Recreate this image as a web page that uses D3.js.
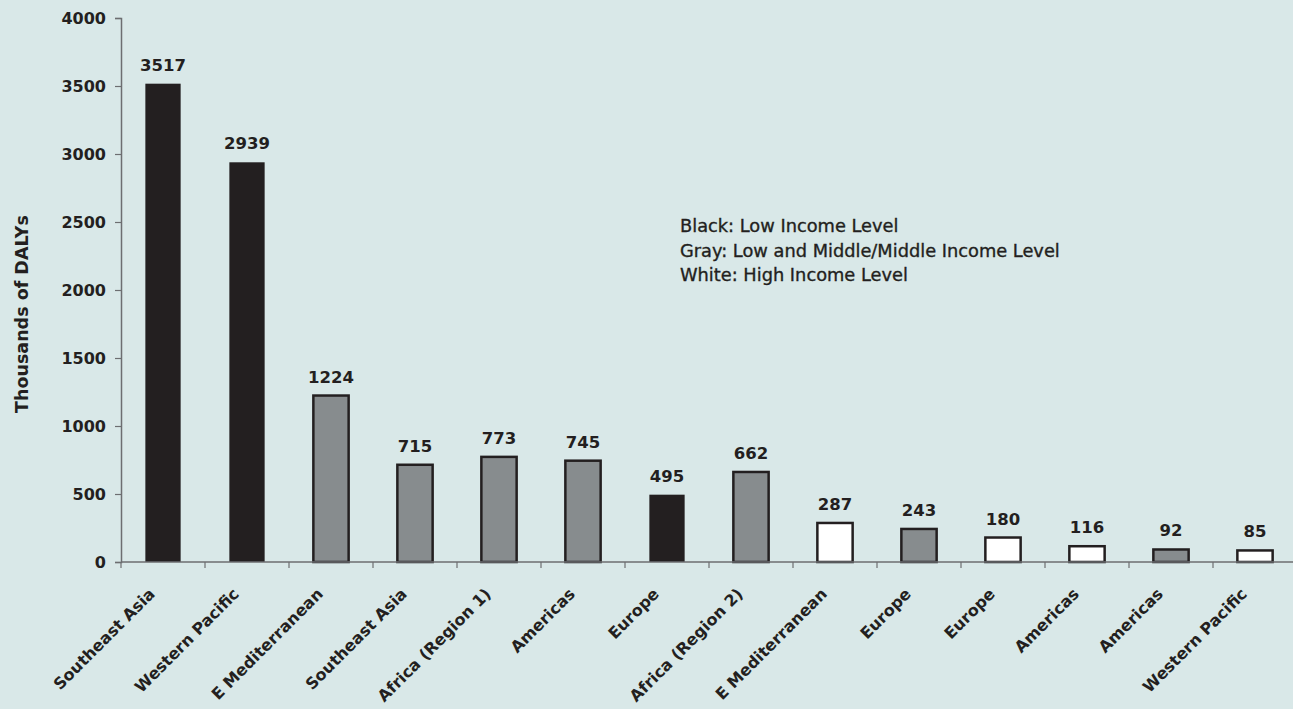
<!DOCTYPE html>
<html>
<head>
<meta charset="utf-8">
<script src="https://cdn.jsdelivr.net/npm/d3@7"></script>
<style>
  body { margin: 0; background: #d9e8e8; }
  svg { display: block; font-family: "DejaVu Sans", sans-serif; }
</style>
</head>
<body>
<div id="chart"></div>
<script>
// data
const regions = ["Southeast Asia", "Western Pacific", "E Mediterranean", "Southeast Asia",
  "Africa (Region 1)", "Americas", "Europe", "Africa (Region 2)", "E Mediterranean",
  "Europe", "Europe", "Americas", "Americas", "Western Pacific"];
const dalys = [3517, 2939, 1224, 715, 773, 745, 495, 662, 287, 243, 180, 116, 92, 85];
const incomeLevel = ["low", "low", "mid", "mid", "mid", "mid", "low", "mid", "high",
  "mid", "high", "high", "mid", "high"];
const yTicks = [0, 500, 1000, 1500, 2000, 2500, 3000, 3500, 4000];
const legendLines = ["Black: Low Income Level",
  "Gray: Low and Middle/Middle Income Level",
  "White: High Income Level"];

const W = 1293, H = 709;
const colors = { low: "#231f20", mid: "#878c8e", high: "#ffffff" };
const ink = "#231f20";

var svg = d3.select("#chart").append("svg")
  .attr("width", W).attr("height", H);

svg.append("rect").attr("width", W).attr("height", H).attr("fill", "#d9e8e8");

// scales
var x = d3.scaleBand().domain(d3.range(regions.length)).range([121, 1297]).paddingInner(0.58).paddingOuter(0.29);
var y = d3.scaleLinear().domain([0, 4000]).range([562, 18]);

// bars
svg.append("g").selectAll("rect")
  .data(dalys)
  .enter()
  .append("rect")
  .attr("x", (d, i) => x(i))
  .attr("y", d => y(d))
  .attr("width", x.bandwidth())
  .attr("height", d => y(0) - y(d))
  .attr("fill", (d, i) => colors[incomeLevel[i]])
  .attr("stroke", ink)
  .attr("stroke-width", (d, i) => incomeLevel[i] == "low" ? 0 : 2.5);

// value labels
svg.append("g").selectAll("text")
  .data(dalys)
  .enter()
  .append("text")
  .attr("x", (d, i) => x(i) + x.bandwidth() / 2)
  .attr("y", d => y(d) - 13)
  .attr("text-anchor", "middle")
  .style("font-size", "16.5px")
  .style("font-weight", "bold")
  .style("fill", ink)
  .text(d => d);

// y axis
var yAxis = svg.append("g")
  .attr("transform", "translate(121,0)")
  .call(d3.axisLeft(y).tickValues(yTicks).tickSize(6).tickPadding(9).tickFormat(d3.format("d")));
yAxis.select(".domain").attr("stroke", "#6d6e71").attr("stroke-width", 1.5);
yAxis.selectAll(".tick line").attr("stroke", "#6d6e71").attr("stroke-width", 1.2);
yAxis.selectAll(".tick text")
  .style("font-size", "16px").style("font-weight", "bold")
  .style("fill", ink).style("font-family", "DejaVu Sans, sans-serif");

// x axis: tick marks at the band edges
var xb = svg.append("g");
xb.append("line")
  .attr("x1", 121).attr("x2", W)
  .attr("y1", y(0)).attr("y2", y(0))
  .attr("stroke", "#6d6e71").attr("stroke-width", 1.5);
xb.selectAll("line.tk")
  .data(d3.range(regions.length))
  .enter()
  .append("line")
  .attr("class", "tk")
  .attr("x1", i => x(i) - x.step() * 0.29)
  .attr("x2", i => x(i) - x.step() * 0.29)
  .attr("y1", y(0)).attr("y2", y(0) + 6)
  .attr("stroke", "#6d6e71").attr("stroke-width", 1.2);

// category labels
xb.selectAll("text")
  .data(regions)
  .enter()
  .append("text")
  .attr("transform", (d, i) => "translate(" + (x(i) + x.bandwidth() / 2 - 7) + "," + (y(0) + 33) + ") rotate(-45)")
  .attr("text-anchor", "end")
  .style("font-size", "16px")
  .style("font-weight", "bold")
  .style("fill", ink)
  .text(d => d);

// y axis title
svg.append("text")
  .attr("transform", "translate(28,314) rotate(-90)")
  .attr("text-anchor", "middle")
  .style("font-size", "17.5px")
  .style("font-weight", "bold")
  .style("fill", ink)
  .text("Thousands of DALYs");

// legend note
svg.append("g").selectAll("text")
  .data(legendLines)
  .enter()
  .append("text")
  .attr("x", 680)
  .attr("y", (d, i) => 232 + i * 24.7)
  .style("font-size", "17.8px")
  .style("fill", ink)
  .style("stroke", ink)
  .style("stroke-width", 0.35)
  .text(d => d);
</script>
</body>
</html>
